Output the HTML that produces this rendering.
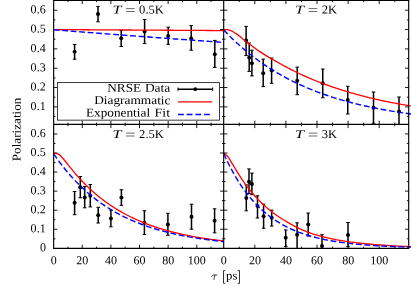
<!DOCTYPE html><html><head><meta charset="utf-8"><style>html,body{margin:0;padding:0;background:#fff}svg{display:block;will-change:transform;opacity:0.999}text{font-family:"Liberation Serif",serif;font-size:12px;fill:#000;text-rendering:geometricPrecision}</style></head><body>
<svg width="411" height="288" viewBox="0 0 411 288">
<rect width="411" height="288" fill="#fff"/>
<defs>
<clipPath id="c1"><rect x="53.65" y="0.35" width="170.04999999999998" height="124.05000000000001"/></clipPath>
<clipPath id="c2"><rect x="223.7" y="0.35" width="188.0" height="124.05000000000001"/></clipPath>
<clipPath id="c3"><rect x="53.65" y="124.4" width="170.04999999999998" height="124.0"/></clipPath>
<clipPath id="c4"><rect x="223.7" y="124.4" width="188.0" height="124.0"/></clipPath>
</defs>
<path d="M53.65,116.53h1.8 M223.7,116.53h-1.8 M223.7,116.53h1.8 M408.7,116.53h-1.8 M53.65,238.77h1.8 M223.7,238.77h-1.8 M223.7,238.77h1.8 M408.7,238.77h-1.8 M53.65,106.87h3.7 M223.7,106.87h-3.7 M223.7,106.87h3.7 M408.7,106.87h-3.7 M53.65,229.24h3.7 M223.7,229.24h-3.7 M223.7,229.24h3.7 M408.7,229.24h-3.7 M53.65,97.20h1.8 M223.7,97.20h-1.8 M223.7,97.20h1.8 M408.7,97.20h-1.8 M53.65,219.71h1.8 M223.7,219.71h-1.8 M223.7,219.71h1.8 M408.7,219.71h-1.8 M53.65,87.54h3.7 M223.7,87.54h-3.7 M223.7,87.54h3.7 M408.7,87.54h-3.7 M53.65,210.18h3.7 M223.7,210.18h-3.7 M223.7,210.18h3.7 M408.7,210.18h-3.7 M53.65,77.88h1.8 M223.7,77.88h-1.8 M223.7,77.88h1.8 M408.7,77.88h-1.8 M53.65,200.65h1.8 M223.7,200.65h-1.8 M223.7,200.65h1.8 M408.7,200.65h-1.8 M53.65,68.21h3.7 M223.7,68.21h-3.7 M223.7,68.21h3.7 M408.7,68.21h-3.7 M53.65,191.12h3.7 M223.7,191.12h-3.7 M223.7,191.12h3.7 M408.7,191.12h-3.7 M53.65,58.54h1.8 M223.7,58.54h-1.8 M223.7,58.54h1.8 M408.7,58.54h-1.8 M53.65,181.59h1.8 M223.7,181.59h-1.8 M223.7,181.59h1.8 M408.7,181.59h-1.8 M53.65,48.88h3.7 M223.7,48.88h-3.7 M223.7,48.88h3.7 M408.7,48.88h-3.7 M53.65,172.06h3.7 M223.7,172.06h-3.7 M223.7,172.06h3.7 M408.7,172.06h-3.7 M53.65,39.21h1.8 M223.7,39.21h-1.8 M223.7,39.21h1.8 M408.7,39.21h-1.8 M53.65,162.53h1.8 M223.7,162.53h-1.8 M223.7,162.53h1.8 M408.7,162.53h-1.8 M53.65,29.55h3.7 M223.7,29.55h-3.7 M223.7,29.55h3.7 M408.7,29.55h-3.7 M53.65,153.00h3.7 M223.7,153.00h-3.7 M223.7,153.00h3.7 M408.7,153.00h-3.7 M53.65,19.88h1.8 M223.7,19.88h-1.8 M223.7,19.88h1.8 M408.7,19.88h-1.8 M53.65,143.47h1.8 M223.7,143.47h-1.8 M223.7,143.47h1.8 M408.7,143.47h-1.8 M53.65,10.22h3.7 M223.7,10.22h-3.7 M223.7,10.22h3.7 M408.7,10.22h-3.7 M53.65,133.94h3.7 M223.7,133.94h-3.7 M223.7,133.94h3.7 M408.7,133.94h-3.7 M67.96,0.35v1.8 M67.96,124.4v-1.8 M67.96,124.4v1.8 M67.96,248.4v-1.8 M239.25,0.35v1.8 M239.25,124.4v-1.8 M239.25,124.4v1.8 M239.25,248.4v-1.8 M82.27,0.35v3.7 M82.27,124.4v-3.7 M82.27,124.4v3.7 M82.27,248.4v-3.7 M254.80,0.35v3.7 M254.80,124.4v-3.7 M254.80,124.4v3.7 M254.80,248.4v-3.7 M96.58,0.35v1.8 M96.58,124.4v-1.8 M96.58,124.4v1.8 M96.58,248.4v-1.8 M270.35,0.35v1.8 M270.35,124.4v-1.8 M270.35,124.4v1.8 M270.35,248.4v-1.8 M110.89,0.35v3.7 M110.89,124.4v-3.7 M110.89,124.4v3.7 M110.89,248.4v-3.7 M285.90,0.35v3.7 M285.90,124.4v-3.7 M285.90,124.4v3.7 M285.90,248.4v-3.7 M125.20,0.35v1.8 M125.20,124.4v-1.8 M125.20,124.4v1.8 M125.20,248.4v-1.8 M301.45,0.35v1.8 M301.45,124.4v-1.8 M301.45,124.4v1.8 M301.45,248.4v-1.8 M139.51,0.35v3.7 M139.51,124.4v-3.7 M139.51,124.4v3.7 M139.51,248.4v-3.7 M317.00,0.35v3.7 M317.00,124.4v-3.7 M317.00,124.4v3.7 M317.00,248.4v-3.7 M153.82,0.35v1.8 M153.82,124.4v-1.8 M153.82,124.4v1.8 M153.82,248.4v-1.8 M332.55,0.35v1.8 M332.55,124.4v-1.8 M332.55,124.4v1.8 M332.55,248.4v-1.8 M168.13,0.35v3.7 M168.13,124.4v-3.7 M168.13,124.4v3.7 M168.13,248.4v-3.7 M348.10,0.35v3.7 M348.10,124.4v-3.7 M348.10,124.4v3.7 M348.10,248.4v-3.7 M182.44,0.35v1.8 M182.44,124.4v-1.8 M182.44,124.4v1.8 M182.44,248.4v-1.8 M363.65,0.35v1.8 M363.65,124.4v-1.8 M363.65,124.4v1.8 M363.65,248.4v-1.8 M196.75,0.35v3.7 M196.75,124.4v-3.7 M196.75,124.4v3.7 M196.75,248.4v-3.7 M379.20,0.35v3.7 M379.20,124.4v-3.7 M379.20,124.4v3.7 M379.20,248.4v-3.7 M211.06,0.35v1.8 M211.06,124.4v-1.8 M211.06,124.4v1.8 M211.06,248.4v-1.8 M394.75,0.35v1.8 M394.75,124.4v-1.8 M394.75,124.4v1.8 M394.75,248.4v-1.8" stroke="#000" stroke-width="0.9" fill="none"/>
<g clip-path="url(#c1)" stroke="#000" stroke-width="1.5" fill="#000">
<path d="M74.60,44.40V59.20" fill="none"/>
<path d="M72.80,44.40h3.6M72.80,59.20h3.6" fill="none" stroke-width="1"/>
<circle cx="74.60" cy="51.80" r="2.0" stroke="none"/>
<path d="M98.00,6.40V21.80" fill="none"/>
<path d="M96.20,6.40h3.6M96.20,21.80h3.6" fill="none" stroke-width="1"/>
<circle cx="98.00" cy="14.00" r="2.0" stroke="none"/>
<path d="M121.20,30.60V46.50" fill="none"/>
<path d="M119.40,30.60h3.6M119.40,46.50h3.6" fill="none" stroke-width="1"/>
<circle cx="121.20" cy="38.20" r="2.0" stroke="none"/>
<path d="M144.60,19.50V43.60" fill="none"/>
<path d="M142.80,19.50h3.6M142.80,43.60h3.6" fill="none" stroke-width="1"/>
<circle cx="144.60" cy="31.60" r="2.0" stroke="none"/>
<path d="M168.20,27.20V44.30" fill="none"/>
<path d="M166.40,27.20h3.6M166.40,44.30h3.6" fill="none" stroke-width="1"/>
<circle cx="168.20" cy="35.90" r="2.0" stroke="none"/>
<path d="M191.20,25.60V50.20" fill="none"/>
<path d="M189.40,25.60h3.6M189.40,50.20h3.6" fill="none" stroke-width="1"/>
<circle cx="191.20" cy="38.40" r="2.0" stroke="none"/>
<path d="M214.80,40.40V67.40" fill="none"/>
<path d="M213.00,40.40h3.6M213.00,67.40h3.6" fill="none" stroke-width="1"/>
<circle cx="214.80" cy="54.20" r="2.0" stroke="none"/>
</g>
<g clip-path="url(#c2)" stroke="#000" stroke-width="1.5" fill="#000">
<path d="M246.10,26.40V55.60" fill="none"/>
<path d="M244.30,26.40h3.6M244.30,55.60h3.6" fill="none" stroke-width="1"/>
<circle cx="246.10" cy="40.60" r="2.0" stroke="none"/>
<path d="M249.20,43.00V71.40" fill="none"/>
<path d="M247.40,43.00h3.6M247.40,71.40h3.6" fill="none" stroke-width="1"/>
<circle cx="249.20" cy="57.80" r="2.0" stroke="none"/>
<path d="M251.90,50.20V75.90" fill="none"/>
<path d="M250.10,50.20h3.6M250.10,75.90h3.6" fill="none" stroke-width="1"/>
<circle cx="251.90" cy="63.20" r="2.0" stroke="none"/>
<path d="M263.20,59.10V86.60" fill="none"/>
<path d="M261.40,59.10h3.6M261.40,86.60h3.6" fill="none" stroke-width="1"/>
<circle cx="263.20" cy="73.30" r="2.0" stroke="none"/>
<path d="M271.60,58.00V83.30" fill="none"/>
<path d="M269.80,58.00h3.6M269.80,83.30h3.6" fill="none" stroke-width="1"/>
<circle cx="271.60" cy="70.60" r="2.0" stroke="none"/>
<path d="M297.20,67.10V94.70" fill="none"/>
<path d="M295.40,67.10h3.6M295.40,94.70h3.6" fill="none" stroke-width="1"/>
<circle cx="297.20" cy="80.70" r="2.0" stroke="none"/>
<path d="M322.75,69.00V97.75" fill="none"/>
<path d="M320.95,69.00h3.6M320.95,97.75h3.6" fill="none" stroke-width="1"/>
<circle cx="322.75" cy="83.25" r="2.0" stroke="none"/>
<path d="M347.75,86.25V114.00" fill="none"/>
<path d="M345.95,86.25h3.6M345.95,114.00h3.6" fill="none" stroke-width="1"/>
<circle cx="347.75" cy="100.00" r="2.0" stroke="none"/>
<path d="M373.50,92.00V123.25" fill="none"/>
<path d="M371.70,92.00h3.6M371.70,123.25h3.6" fill="none" stroke-width="1"/>
<circle cx="373.50" cy="107.75" r="2.0" stroke="none"/>
<path d="M399.00,97.00V130.00" fill="none"/>
<path d="M397.20,97.00h3.6M397.20,130.00h3.6" fill="none" stroke-width="1"/>
<circle cx="399.00" cy="111.50" r="2.0" stroke="none"/>
</g>
<g clip-path="url(#c3)" stroke="#000" stroke-width="1.5" fill="#000">
<path d="M74.60,191.50V214.70" fill="none"/>
<path d="M72.80,191.50h3.6M72.80,214.70h3.6" fill="none" stroke-width="1"/>
<circle cx="74.60" cy="202.70" r="2.0" stroke="none"/>
<path d="M80.30,176.50V197.80" fill="none"/>
<path d="M78.50,176.50h3.6M78.50,197.80h3.6" fill="none" stroke-width="1"/>
<circle cx="80.30" cy="187.30" r="2.0" stroke="none"/>
<path d="M84.70,186.60V207.80" fill="none"/>
<path d="M82.90,186.60h3.6M82.90,207.80h3.6" fill="none" stroke-width="1"/>
<circle cx="84.70" cy="197.40" r="2.0" stroke="none"/>
<path d="M90.30,184.50V206.90" fill="none"/>
<path d="M88.50,184.50h3.6M88.50,206.90h3.6" fill="none" stroke-width="1"/>
<circle cx="90.30" cy="195.70" r="2.0" stroke="none"/>
<path d="M98.20,207.30V223.00" fill="none"/>
<path d="M96.40,207.30h3.6M96.40,223.00h3.6" fill="none" stroke-width="1"/>
<circle cx="98.20" cy="215.30" r="2.0" stroke="none"/>
<path d="M110.90,210.10V226.80" fill="none"/>
<path d="M109.10,210.10h3.6M109.10,226.80h3.6" fill="none" stroke-width="1"/>
<circle cx="110.90" cy="218.50" r="2.0" stroke="none"/>
<path d="M121.40,189.70V205.30" fill="none"/>
<path d="M119.60,189.70h3.6M119.60,205.30h3.6" fill="none" stroke-width="1"/>
<circle cx="121.40" cy="197.50" r="2.0" stroke="none"/>
<path d="M144.40,210.70V234.50" fill="none"/>
<path d="M142.60,210.70h3.6M142.60,234.50h3.6" fill="none" stroke-width="1"/>
<circle cx="144.40" cy="222.70" r="2.0" stroke="none"/>
<path d="M167.90,213.30V235.30" fill="none"/>
<path d="M166.10,213.30h3.6M166.10,235.30h3.6" fill="none" stroke-width="1"/>
<circle cx="167.90" cy="224.40" r="2.0" stroke="none"/>
<path d="M191.50,204.20V229.20" fill="none"/>
<path d="M189.70,204.20h3.6M189.70,229.20h3.6" fill="none" stroke-width="1"/>
<circle cx="191.50" cy="216.70" r="2.0" stroke="none"/>
<path d="M214.60,208.80V232.80" fill="none"/>
<path d="M212.80,208.80h3.6M212.80,232.80h3.6" fill="none" stroke-width="1"/>
<circle cx="214.60" cy="220.70" r="2.0" stroke="none"/>
</g>
<g clip-path="url(#c4)" stroke="#000" stroke-width="1.5" fill="#000">
<path d="M246.30,184.90V210.80" fill="none"/>
<path d="M244.50,184.90h3.6M244.50,210.80h3.6" fill="none" stroke-width="1"/>
<circle cx="246.30" cy="198.10" r="2.0" stroke="none"/>
<path d="M249.00,168.90V193.60" fill="none"/>
<path d="M247.20,168.90h3.6M247.20,193.60h3.6" fill="none" stroke-width="1"/>
<circle cx="249.00" cy="181.70" r="2.0" stroke="none"/>
<path d="M251.90,173.10V194.70" fill="none"/>
<path d="M250.10,173.10h3.6M250.10,194.70h3.6" fill="none" stroke-width="1"/>
<circle cx="251.90" cy="184.10" r="2.0" stroke="none"/>
<path d="M257.50,195.80V218.00" fill="none"/>
<path d="M255.70,195.80h3.6M255.70,218.00h3.6" fill="none" stroke-width="1"/>
<circle cx="257.50" cy="206.00" r="2.0" stroke="none"/>
<path d="M263.60,204.20V228.30" fill="none"/>
<path d="M261.80,204.20h3.6M261.80,228.30h3.6" fill="none" stroke-width="1"/>
<circle cx="263.60" cy="216.30" r="2.0" stroke="none"/>
<path d="M271.70,210.10V226.10" fill="none"/>
<path d="M269.90,210.10h3.6M269.90,226.10h3.6" fill="none" stroke-width="1"/>
<circle cx="271.70" cy="217.80" r="2.0" stroke="none"/>
<path d="M285.70,229.90V246.50" fill="none"/>
<path d="M283.90,229.90h3.6M283.90,246.50h3.6" fill="none" stroke-width="1"/>
<circle cx="285.70" cy="237.70" r="2.0" stroke="none"/>
<path d="M297.10,222.80V250.00" fill="none"/>
<path d="M295.30,222.80h3.6M295.30,250.00h3.6" fill="none" stroke-width="1"/>
<circle cx="297.10" cy="234.70" r="2.0" stroke="none"/>
<path d="M308.20,213.00V236.00" fill="none"/>
<path d="M306.40,213.00h3.6M306.40,236.00h3.6" fill="none" stroke-width="1"/>
<circle cx="308.20" cy="224.60" r="2.0" stroke="none"/>
<path d="M322.00,234.70V256.00" fill="none"/>
<path d="M320.20,234.70h3.6M320.20,256.00h3.6" fill="none" stroke-width="1"/>
<circle cx="322.00" cy="246.10" r="2.0" stroke="none"/>
<path d="M348.00,222.50V246.70" fill="none"/>
<path d="M346.20,222.50h3.6M346.20,246.70h3.6" fill="none" stroke-width="1"/>
<circle cx="348.00" cy="235.00" r="2.0" stroke="none"/>
</g>
<g clip-path="url(#c1)">
<path d="M53.65,29.55 L55.08,29.56 L56.51,29.57 L57.94,29.58 L59.36,29.58 L60.79,29.59 L62.22,29.60 L63.65,29.61 L65.08,29.62 L66.51,29.63 L67.94,29.64 L69.36,29.65 L70.79,29.65 L72.22,29.66 L73.65,29.67 L75.08,29.68 L76.51,29.69 L77.94,29.70 L79.36,29.71 L80.79,29.72 L82.22,29.72 L83.65,29.73 L85.08,29.74 L86.51,29.75 L87.94,29.76 L89.36,29.77 L90.79,29.78 L92.22,29.79 L93.65,29.79 L95.08,29.80 L96.51,29.81 L97.94,29.82 L99.36,29.83 L100.79,29.84 L102.22,29.85 L103.65,29.86 L105.08,29.86 L106.51,29.87 L107.94,29.88 L109.36,29.89 L110.79,29.90 L112.22,29.91 L113.65,29.92 L115.08,29.92 L116.51,29.93 L117.94,29.94 L119.36,29.95 L120.79,29.96 L122.22,29.97 L123.65,29.98 L125.08,29.99 L126.51,29.99 L127.94,30.00 L129.36,30.01 L130.79,30.02 L132.22,30.03 L133.65,30.04 L135.08,30.05 L136.51,30.06 L137.94,30.06 L139.36,30.07 L140.79,30.08 L142.22,30.09 L143.65,30.10 L145.08,30.11 L146.51,30.12 L147.94,30.13 L149.36,30.13 L150.79,30.14 L152.22,30.15 L153.65,30.16 L155.08,30.17 L156.51,30.18 L157.94,30.19 L159.36,30.20 L160.79,30.20 L162.22,30.21 L163.65,30.22 L165.08,30.23 L166.51,30.24 L167.94,30.25 L169.36,30.26 L170.79,30.27 L172.22,30.27 L173.65,30.28 L175.08,30.29 L176.51,30.30 L177.93,30.31 L179.36,30.32 L180.79,30.33 L182.22,30.33 L183.65,30.34 L185.08,30.35 L186.51,30.36 L187.93,30.37 L189.36,30.38 L190.79,30.39 L192.22,30.40 L193.65,30.40 L195.08,30.41 L196.51,30.42 L197.93,30.43 L199.36,30.44 L200.79,30.45 L202.22,30.46 L203.65,30.47 L205.08,30.47 L206.51,30.48 L207.93,30.49 L209.36,30.50 L210.79,30.51 L212.22,30.52 L213.65,30.53 L215.08,30.54 L216.51,30.54 L217.93,30.55 L219.36,30.56 L220.79,30.57 L222.22,30.58 L223.65,30.59 L225.08,30.60" fill="none" stroke="#ff0000" stroke-width="1.3"/>
<path d="M53.65,29.74 L55.08,29.86 L56.51,29.97 L57.94,30.08 L59.36,30.20 L60.79,30.31 L62.22,30.42 L63.65,30.54 L65.08,30.65 L66.51,30.76 L67.94,30.87 L69.36,30.99 L70.79,31.10 L72.22,31.21 L73.65,31.32 L75.08,31.43 L76.51,31.55 L77.94,31.66 L79.36,31.77 L80.79,31.88 L82.22,31.99 L83.65,32.10 L85.08,32.21 L86.51,32.32 L87.94,32.44 L89.36,32.55 L90.79,32.66 L92.22,32.77 L93.65,32.88 L95.08,32.99 L96.51,33.10 L97.94,33.21 L99.36,33.32 L100.79,33.43 L102.22,33.53 L103.65,33.64 L105.08,33.75 L106.51,33.86 L107.94,33.97 L109.36,34.08 L110.79,34.19 L112.22,34.30 L113.65,34.40 L115.08,34.51 L116.51,34.62 L117.94,34.73 L119.36,34.84 L120.79,34.94 L122.22,35.05 L123.65,35.16 L125.08,35.27 L126.51,35.37 L127.94,35.48 L129.36,35.59 L130.79,35.69 L132.22,35.80 L133.65,35.91 L135.08,36.01 L136.51,36.12 L137.94,36.23 L139.36,36.33 L140.79,36.44 L142.22,36.54 L143.65,36.65 L145.08,36.76 L146.51,36.86 L147.94,36.97 L149.36,37.07 L150.79,37.18 L152.22,37.28 L153.65,37.39 L155.08,37.49 L156.51,37.60 L157.94,37.70 L159.36,37.80 L160.79,37.91 L162.22,38.01 L163.65,38.12 L165.08,38.22 L166.51,38.32 L167.94,38.43 L169.36,38.53 L170.79,38.63 L172.22,38.74 L173.65,38.84 L175.08,38.94 L176.51,39.05 L177.93,39.15 L179.36,39.25 L180.79,39.35 L182.22,39.46 L183.65,39.56 L185.08,39.66 L186.51,39.76 L187.93,39.87 L189.36,39.97 L190.79,40.07 L192.22,40.17 L193.65,40.27 L195.08,40.37 L196.51,40.47 L197.93,40.58 L199.36,40.68 L200.79,40.78 L202.22,40.88 L203.65,40.98 L205.08,41.08 L206.51,41.18 L207.93,41.28 L209.36,41.38 L210.79,41.48 L212.22,41.58 L213.65,41.68 L215.08,41.78 L216.51,41.88 L217.93,41.98 L219.36,42.08 L220.79,42.18 L222.22,42.27 L223.65,42.37 L225.08,42.47" fill="none" stroke="#0000ff" stroke-width="1.4" stroke-dasharray="5.8,2.72"/>
</g>
<g clip-path="url(#c2)">
<path d="M223.70,29.55 L225.27,29.59 L226.84,29.71 L228.41,29.96 L229.98,30.39 L231.55,30.96 L233.13,31.72 L234.70,32.68 L236.27,33.72 L237.84,34.88 L239.41,36.10 L240.98,37.36 L242.55,38.66 L244.12,39.92 L245.69,41.16 L247.26,42.39 L248.84,43.62 L250.41,44.82 L251.98,46.01 L253.55,47.18 L255.12,48.33 L256.69,49.45 L258.26,50.54 L259.83,51.60 L261.40,52.65 L262.97,53.67 L264.55,54.67 L266.12,55.66 L267.69,56.62 L269.26,57.56 L270.83,58.48 L272.40,59.38 L273.97,60.28 L275.54,61.16 L277.11,62.04 L278.68,62.91 L280.26,63.78 L281.83,64.65 L283.40,65.50 L284.97,66.35 L286.54,67.19 L288.11,68.02 L289.68,68.84 L291.25,69.65 L292.82,70.45 L294.39,71.23 L295.97,72.00 L297.54,72.76 L299.11,73.51 L300.68,74.24 L302.25,74.96 L303.82,75.68 L305.39,76.38 L306.96,77.07 L308.53,77.75 L310.10,78.42 L311.68,79.08 L313.25,79.73 L314.82,80.37 L316.39,81.00 L317.96,81.62 L319.53,82.24 L321.10,82.84 L322.67,83.43 L324.24,84.02 L325.81,84.59 L327.38,85.16 L328.96,85.72 L330.53,86.27 L332.10,86.81 L333.67,87.35 L335.24,87.87 L336.81,88.39 L338.38,88.90 L339.95,89.41 L341.52,89.91 L343.09,90.40 L344.67,90.88 L346.24,91.36 L347.81,91.83 L349.38,92.30 L350.95,92.76 L352.52,93.22 L354.09,93.67 L355.66,94.11 L357.23,94.55 L358.80,94.98 L360.38,95.41 L361.95,95.83 L363.52,96.24 L365.09,96.64 L366.66,97.04 L368.23,97.43 L369.80,97.82 L371.37,98.20 L372.94,98.57 L374.51,98.93 L376.09,99.29 L377.66,99.64 L379.23,99.99 L380.80,100.33 L382.37,100.66 L383.94,100.99 L385.51,101.32 L387.08,101.64 L388.65,101.96 L390.22,102.27 L391.80,102.57 L393.37,102.87 L394.94,103.17 L396.51,103.46 L398.08,103.74 L399.65,104.03 L401.22,104.30 L402.79,104.58 L404.36,104.85 L405.93,105.11 L407.51,105.37 L409.08,105.63 L410.65,105.89 L412.22,106.14" fill="none" stroke="#ff0000" stroke-width="1.3"/>
<path d="M223.70,29.94 L225.27,31.59 L226.84,33.22 L228.41,34.81 L229.98,36.38 L231.55,37.92 L233.13,39.44 L234.70,40.93 L236.27,42.40 L237.84,43.84 L239.41,45.25 L240.98,46.64 L242.55,48.01 L244.12,49.35 L245.69,50.67 L247.26,51.97 L248.84,53.24 L250.41,54.50 L251.98,55.73 L253.55,56.94 L255.12,58.13 L256.69,59.30 L258.26,60.45 L259.83,61.57 L261.40,62.68 L262.97,63.78 L264.55,64.85 L266.12,65.90 L267.69,66.94 L269.26,67.96 L270.83,68.96 L272.40,69.94 L273.97,70.91 L275.54,71.85 L277.11,72.79 L278.68,73.71 L280.26,74.61 L281.83,75.49 L283.40,76.36 L284.97,77.22 L286.54,78.06 L288.11,78.89 L289.68,79.70 L291.25,80.50 L292.82,81.28 L294.39,82.06 L295.97,82.81 L297.54,83.56 L299.11,84.29 L300.68,85.01 L302.25,85.72 L303.82,86.41 L305.39,87.10 L306.96,87.77 L308.53,88.43 L310.10,89.08 L311.68,89.72 L313.25,90.34 L314.82,90.96 L316.39,91.56 L317.96,92.16 L319.53,92.74 L321.10,93.32 L322.67,93.88 L324.24,94.44 L325.81,94.98 L327.38,95.52 L328.96,96.05 L330.53,96.56 L332.10,97.07 L333.67,97.57 L335.24,98.07 L336.81,98.55 L338.38,99.02 L339.95,99.49 L341.52,99.95 L343.09,100.40 L344.67,100.84 L346.24,101.28 L347.81,101.71 L349.38,102.13 L350.95,102.54 L352.52,102.95 L354.09,103.35 L355.66,103.74 L357.23,104.13 L358.80,104.50 L360.38,104.88 L361.95,105.24 L363.52,105.60 L365.09,105.96 L366.66,106.30 L368.23,106.65 L369.80,106.98 L371.37,107.31 L372.94,107.64 L374.51,107.96 L376.09,108.27 L377.66,108.58 L379.23,108.88 L380.80,109.18 L382.37,109.47 L383.94,109.76 L385.51,110.04 L387.08,110.32 L388.65,110.59 L390.22,110.86 L391.80,111.12 L393.37,111.38 L394.94,111.63 L396.51,111.89 L398.08,112.13 L399.65,112.37 L401.22,112.61 L402.79,112.84 L404.36,113.07 L405.93,113.30 L407.51,113.52 L409.08,113.74 L410.65,113.95 L412.22,114.16" fill="none" stroke="#0000ff" stroke-width="1.4" stroke-dasharray="5.8,2.72"/>
</g>
<g clip-path="url(#c3)">
<path d="M53.65,153.00 L55.08,153.04 L56.51,153.28 L57.94,153.87 L59.36,154.82 L60.79,156.08 L62.22,157.59 L63.65,159.24 L65.08,160.99 L66.51,162.78 L67.94,164.58 L69.36,166.38 L70.79,168.16 L72.22,169.91 L73.65,171.63 L75.08,173.32 L76.51,174.98 L77.94,176.60 L79.36,178.18 L80.79,179.73 L82.22,181.25 L83.65,182.73 L85.08,184.18 L86.51,185.60 L87.94,186.99 L89.36,188.35 L90.79,189.67 L92.22,190.97 L93.65,192.24 L95.08,193.48 L96.51,194.69 L97.94,195.88 L99.36,197.04 L100.79,198.17 L102.22,199.28 L103.65,200.37 L105.08,201.43 L106.51,202.46 L107.94,203.48 L109.36,204.47 L110.79,205.44 L112.22,206.39 L113.65,207.32 L115.08,208.22 L116.51,209.11 L117.94,209.98 L119.36,210.83 L120.79,211.65 L122.22,212.47 L123.65,213.26 L125.08,214.03 L126.51,214.79 L127.94,215.53 L129.36,216.26 L130.79,216.97 L132.22,217.66 L133.65,218.34 L135.08,219.00 L136.51,219.65 L137.94,220.28 L139.36,220.90 L140.79,221.51 L142.22,222.10 L143.65,222.68 L145.08,223.25 L146.51,223.80 L147.94,224.35 L149.36,224.88 L150.79,225.39 L152.22,225.90 L153.65,226.40 L155.08,226.88 L156.51,227.36 L157.94,227.82 L159.36,228.27 L160.79,228.72 L162.22,229.15 L163.65,229.57 L165.08,229.99 L166.51,230.39 L167.94,230.79 L169.36,231.18 L170.79,231.56 L172.22,231.93 L173.65,232.29 L175.08,232.64 L176.51,232.99 L177.93,233.33 L179.36,233.66 L180.79,233.98 L182.22,234.30 L183.65,234.61 L185.08,234.91 L186.51,235.21 L187.93,235.50 L189.36,235.78 L190.79,236.06 L192.22,236.33 L193.65,236.59 L195.08,236.85 L196.51,237.11 L197.93,237.35 L199.36,237.60 L200.79,237.83 L202.22,238.07 L203.65,238.29 L205.08,238.51 L206.51,238.73 L207.93,238.94 L209.36,239.15 L210.79,239.35 L212.22,239.55 L213.65,239.74 L215.08,239.93 L216.51,240.12 L217.93,240.30 L219.36,240.48 L220.79,240.65 L222.22,240.82 L223.65,240.98 L225.08,241.15" fill="none" stroke="#ff0000" stroke-width="1.3"/>
<path d="M53.65,153.76 L55.08,155.85 L56.51,157.88 L57.94,159.87 L59.36,161.82 L60.79,163.73 L62.22,165.59 L63.65,167.41 L65.08,169.20 L66.51,170.94 L67.94,172.64 L69.36,174.31 L70.79,175.94 L72.22,177.53 L73.65,179.09 L75.08,180.62 L76.51,182.11 L77.94,183.57 L79.36,184.99 L80.79,186.39 L82.22,187.75 L83.65,189.09 L85.08,190.39 L86.51,191.67 L87.94,192.91 L89.36,194.13 L90.79,195.33 L92.22,196.49 L93.65,197.64 L95.08,198.75 L96.51,199.84 L97.94,200.91 L99.36,201.96 L100.79,202.98 L102.22,203.97 L103.65,204.95 L105.08,205.91 L106.51,206.84 L107.94,207.75 L109.36,208.65 L110.79,209.52 L112.22,210.38 L113.65,211.21 L115.08,212.03 L116.51,212.83 L117.94,213.61 L119.36,214.37 L120.79,215.12 L122.22,215.85 L123.65,216.57 L125.08,217.27 L126.51,217.95 L127.94,218.62 L129.36,219.27 L130.79,219.91 L132.22,220.54 L133.65,221.15 L135.08,221.75 L136.51,222.33 L137.94,222.90 L139.36,223.46 L140.79,224.01 L142.22,224.55 L143.65,225.07 L145.08,225.58 L146.51,226.08 L147.94,226.57 L149.36,227.05 L150.79,227.52 L152.22,227.98 L153.65,228.42 L155.08,228.86 L156.51,229.29 L157.94,229.71 L159.36,230.12 L160.79,230.52 L162.22,230.91 L163.65,231.29 L165.08,231.67 L166.51,232.03 L167.94,232.39 L169.36,232.74 L170.79,233.09 L172.22,233.42 L173.65,233.75 L175.08,234.07 L176.51,234.38 L177.93,234.69 L179.36,234.99 L180.79,235.28 L182.22,235.57 L183.65,235.85 L185.08,236.12 L186.51,236.39 L187.93,236.65 L189.36,236.91 L190.79,237.16 L192.22,237.41 L193.65,237.65 L195.08,237.88 L196.51,238.11 L197.93,238.34 L199.36,238.56 L200.79,238.77 L202.22,238.98 L203.65,239.19 L205.08,239.39 L206.51,239.58 L207.93,239.78 L209.36,239.96 L210.79,240.15 L212.22,240.33 L213.65,240.50 L215.08,240.67 L216.51,240.84 L217.93,241.01 L219.36,241.17 L220.79,241.32 L222.22,241.48 L223.65,241.63 L225.08,241.77" fill="none" stroke="#0000ff" stroke-width="1.4" stroke-dasharray="5.8,2.72"/>
</g>
<g clip-path="url(#c4)">
<path d="M223.70,153.00 L225.27,154.16 L226.84,155.49 L228.41,157.46 L229.98,159.95 L231.55,162.54 L233.13,165.09 L234.70,167.73 L236.27,170.38 L237.84,172.96 L239.41,175.42 L240.98,177.83 L242.55,180.17 L244.12,182.44 L245.69,184.62 L247.26,186.73 L248.84,188.75 L250.41,190.71 L251.98,192.61 L253.55,194.44 L255.12,196.21 L256.69,197.92 L258.26,199.58 L259.83,201.19 L261.40,202.74 L262.97,204.25 L264.55,205.70 L266.12,207.11 L267.69,208.47 L269.26,209.78 L270.83,211.05 L272.40,212.27 L273.97,213.44 L275.54,214.57 L277.11,215.66 L278.68,216.72 L280.26,217.75 L281.83,218.76 L283.40,219.75 L284.97,220.71 L286.54,221.66 L288.11,222.59 L289.68,223.50 L291.25,224.39 L292.82,225.25 L294.39,226.09 L295.97,226.91 L297.54,227.70 L299.11,228.45 L300.68,229.19 L302.25,229.89 L303.82,230.56 L305.39,231.20 L306.96,231.82 L308.53,232.41 L310.10,232.97 L311.68,233.50 L313.25,234.02 L314.82,234.51 L316.39,234.99 L317.96,235.44 L319.53,235.88 L321.10,236.31 L322.67,236.72 L324.24,237.11 L325.81,237.49 L327.38,237.85 L328.96,238.20 L330.53,238.54 L332.10,238.87 L333.67,239.18 L335.24,239.49 L336.81,239.78 L338.38,240.06 L339.95,240.34 L341.52,240.60 L343.09,240.86 L344.67,241.11 L346.24,241.35 L347.81,241.58 L349.38,241.81 L350.95,242.02 L352.52,242.23 L354.09,242.43 L355.66,242.63 L357.23,242.82 L358.80,243.00 L360.38,243.18 L361.95,243.35 L363.52,243.52 L365.09,243.68 L366.66,243.83 L368.23,243.98 L369.80,244.13 L371.37,244.27 L372.94,244.40 L374.51,244.53 L376.09,244.66 L377.66,244.78 L379.23,244.90 L380.80,245.02 L382.37,245.13 L383.94,245.24 L385.51,245.34 L387.08,245.45 L388.65,245.54 L390.22,245.64 L391.80,245.73 L393.37,245.82 L394.94,245.91 L396.51,245.99 L398.08,246.07 L399.65,246.15 L401.22,246.22 L402.79,246.29 L404.36,246.36 L405.93,246.43 L407.51,246.50 L409.08,246.56 L410.65,246.62 L412.22,246.68" fill="none" stroke="#ff0000" stroke-width="1.3"/>
<path d="M223.70,153.57 L225.27,157.02 L226.84,160.34 L228.41,163.54 L229.98,166.63 L231.55,169.60 L233.13,172.46 L234.70,175.22 L236.27,177.88 L237.84,180.45 L239.41,182.91 L240.98,185.29 L242.55,187.59 L244.12,189.80 L245.69,191.93 L247.26,193.98 L248.84,195.95 L250.41,197.86 L251.98,199.69 L253.55,201.46 L255.12,203.17 L256.69,204.81 L258.26,206.39 L259.83,207.92 L261.40,209.39 L262.97,210.80 L264.55,212.17 L266.12,213.48 L267.69,214.75 L269.26,215.97 L270.83,217.15 L272.40,218.28 L273.97,219.37 L275.54,220.43 L277.11,221.44 L278.68,222.42 L280.26,223.36 L281.83,224.27 L283.40,225.14 L284.97,225.99 L286.54,226.80 L288.11,227.58 L289.68,228.33 L291.25,229.06 L292.82,229.76 L294.39,230.44 L295.97,231.09 L297.54,231.71 L299.11,232.32 L300.68,232.90 L302.25,233.46 L303.82,234.00 L305.39,234.52 L306.96,235.02 L308.53,235.50 L310.10,235.97 L311.68,236.42 L313.25,236.85 L314.82,237.27 L316.39,237.67 L317.96,238.06 L319.53,238.43 L321.10,238.79 L322.67,239.13 L324.24,239.47 L325.81,239.79 L327.38,240.10 L328.96,240.40 L330.53,240.68 L332.10,240.96 L333.67,241.23 L335.24,241.49 L336.81,241.73 L338.38,241.97 L339.95,242.20 L341.52,242.43 L343.09,242.64 L344.67,242.84 L346.24,243.04 L347.81,243.23 L349.38,243.42 L350.95,243.60 L352.52,243.77 L354.09,243.93 L355.66,244.09 L357.23,244.24 L358.80,244.39 L360.38,244.53 L361.95,244.67 L363.52,244.80 L365.09,244.93 L366.66,245.05 L368.23,245.17 L369.80,245.29 L371.37,245.40 L372.94,245.50 L374.51,245.60 L376.09,245.70 L377.66,245.80 L379.23,245.89 L380.80,245.97 L382.37,246.06 L383.94,246.14 L385.51,246.22 L387.08,246.30 L388.65,246.37 L390.22,246.44 L391.80,246.51 L393.37,246.57 L394.94,246.63 L396.51,246.69 L398.08,246.75 L399.65,246.81 L401.22,246.86 L402.79,246.92 L404.36,246.97 L405.93,247.01 L407.51,247.06 L409.08,247.11 L410.65,247.15 L412.22,247.19" fill="none" stroke="#0000ff" stroke-width="1.4" stroke-dasharray="5.8,2.72"/>
</g>
<path d="M53.65,0.35H408.7 M53.65,124.4H408.7 M53.65,248.4H408.7 M53.65,0.35V248.4 M223.7,0.35V248.4 M408.7,0.35V248.4" stroke="#000" stroke-width="1.15" fill="none" stroke-linecap="square"/>
<rect x="57.5" y="82.6" width="162.0" height="37.55000000000001" fill="#fff" stroke="#1a1a1a" stroke-width="0.85"/>
<text x="107.2" y="91.7" textLength="34.0" lengthAdjust="spacingAndGlyphs" font-size="12.4" transform="rotate(0.03 107.2 91.7)" >NRSE</text>
<text x="144.9" y="91.7" textLength="25.4" lengthAdjust="spacingAndGlyphs" font-size="12.4" transform="rotate(0.03 144.9 91.7)" >Data</text>
<text x="94.2" y="104.1" textLength="76.3" lengthAdjust="spacingAndGlyphs" font-size="12.4" transform="rotate(0.03 94.2 104.1)" >Diagrammatic</text>
<text x="85.9" y="116.5" textLength="64.2" lengthAdjust="spacingAndGlyphs" font-size="12.4" transform="rotate(0.03 85.9 116.5)" >Exponential</text>
<text x="154.5" y="116.5" textLength="15.5" lengthAdjust="spacingAndGlyphs" font-size="12.4" transform="rotate(0.03 154.5 116.5)" >Fit</text>
<path d="M178,89.2H212.7" stroke="#000" stroke-width="1.45" fill="none"/><path d="M178,87.5v3.4M212.7,87.5v3.4" stroke="#000" stroke-width="1" fill="none"/><circle cx="195.3" cy="89.2" r="1.9"/>
<path d="M178,101.9H212.2" stroke="#ff0000" stroke-width="1.3"/>
<path d="M178,114.45H209.8" stroke="#0000ff" stroke-width="1.4" stroke-dasharray="5.8,2.9"/>
<text x="30.60" y="13.27" textLength="15.1" lengthAdjust="spacing" font-size="12.8" transform="rotate(0.03 30.60 13.27)">0.6</text>
<text x="30.60" y="136.99" textLength="15.1" lengthAdjust="spacing" font-size="12.8" transform="rotate(0.03 30.60 136.99)">0.6</text>
<text x="30.60" y="32.60" textLength="15.1" lengthAdjust="spacing" font-size="12.8" transform="rotate(0.03 30.60 32.60)">0.5</text>
<text x="30.60" y="156.05" textLength="15.1" lengthAdjust="spacing" font-size="12.8" transform="rotate(0.03 30.60 156.05)">0.5</text>
<text x="30.60" y="51.93" textLength="15.1" lengthAdjust="spacing" font-size="12.8" transform="rotate(0.03 30.60 51.93)">0.4</text>
<text x="30.60" y="175.11" textLength="15.1" lengthAdjust="spacing" font-size="12.8" transform="rotate(0.03 30.60 175.11)">0.4</text>
<text x="30.60" y="71.26" textLength="15.1" lengthAdjust="spacing" font-size="12.8" transform="rotate(0.03 30.60 71.26)">0.3</text>
<text x="30.60" y="194.17" textLength="15.1" lengthAdjust="spacing" font-size="12.8" transform="rotate(0.03 30.60 194.17)">0.3</text>
<text x="30.60" y="90.59" textLength="15.1" lengthAdjust="spacing" font-size="12.8" transform="rotate(0.03 30.60 90.59)">0.2</text>
<text x="30.60" y="213.23" textLength="15.1" lengthAdjust="spacing" font-size="12.8" transform="rotate(0.03 30.60 213.23)">0.2</text>
<text x="30.60" y="109.92" textLength="15.1" lengthAdjust="spacing" font-size="12.8" transform="rotate(0.03 30.60 109.92)">0.1</text>
<text x="30.60" y="232.29" textLength="15.1" lengthAdjust="spacing" font-size="12.8" transform="rotate(0.03 30.60 232.29)">0.1</text>
<text x="40.10" y="251.35" text-anchor="start" font-size="12.8" transform="rotate(0.03 40.10 251.35)">0</text>
<text x="53.75" y="264.35" text-anchor="middle" font-size="12.8" transform="rotate(0.03 53.75 264.35)">0</text>
<text x="82.37" y="264.35" text-anchor="middle" font-size="12.8" transform="rotate(0.03 82.37 264.35)">20</text>
<text x="110.99" y="264.35" text-anchor="middle" font-size="12.8" transform="rotate(0.03 110.99 264.35)">40</text>
<text x="139.61" y="264.35" text-anchor="middle" font-size="12.8" transform="rotate(0.03 139.61 264.35)">60</text>
<text x="168.23" y="264.35" text-anchor="middle" font-size="12.8" transform="rotate(0.03 168.23 264.35)">80</text>
<text x="196.85" y="264.35" text-anchor="middle" font-size="12.8" transform="rotate(0.03 196.85 264.35)">100</text>
<text x="223.80" y="264.35" text-anchor="middle" font-size="12.8" transform="rotate(0.03 223.80 264.35)">0</text>
<text x="254.90" y="264.35" text-anchor="middle" font-size="12.8" transform="rotate(0.03 254.90 264.35)">20</text>
<text x="286.00" y="264.35" text-anchor="middle" font-size="12.8" transform="rotate(0.03 286.00 264.35)">40</text>
<text x="317.10" y="264.35" text-anchor="middle" font-size="12.8" transform="rotate(0.03 317.10 264.35)">60</text>
<text x="348.20" y="264.35" text-anchor="middle" font-size="12.8" transform="rotate(0.03 348.20 264.35)">80</text>
<text x="379.30" y="264.35" text-anchor="middle" font-size="12.8" transform="rotate(0.03 379.30 264.35)">100</text>
<text transform="translate(20.6,161.2) rotate(-89.97)" textLength="63.6" lengthAdjust="spacingAndGlyphs" font-size="13">Polarization</text>
<path d="M211.7,276.5 C212.0,275.5 212.6,275.05 213.6,275.05 L217.0,274.95 M214.9,275.1 C214.5,276.6 214.0,278.0 213.9,279.5" stroke="#000" stroke-width="0.72" fill="none" stroke-linecap="round"/>
<text x="226.1" y="279.5" textLength="11.3" lengthAdjust="spacingAndGlyphs" font-size="12.4" transform="rotate(0.03 226.1 279.5)" >ps</text>
<path d="M225.3,270.6H223.5V283.3H225.3M237.7,270.6H239.5V283.3H237.7" stroke="#000" stroke-width="0.8" fill="none"/>
<text x="112.5" y="13.5" font-size="13" font-style="italic" textLength="9.0" lengthAdjust="spacingAndGlyphs" transform="rotate(0.03 113 13.5)">T</text>
<path d="M126.1,8.6h8.6M126.1,11.5h8.6" stroke="#111" stroke-width="0.62" fill="none"/>
<text x="139.1" y="13.5" textLength="24.8" lengthAdjust="spacingAndGlyphs" font-size="13" transform="rotate(0.03 139.1 13.5)" >0.5K</text>
<text x="295.1" y="13.5" font-size="13" font-style="italic" textLength="9.0" lengthAdjust="spacingAndGlyphs" transform="rotate(0.03 295.6 13.5)">T</text>
<path d="M308.70000000000005,8.6h8.6M308.70000000000005,11.5h8.6" stroke="#111" stroke-width="0.62" fill="none"/>
<text x="321.70000000000005" y="13.5" textLength="15.3" lengthAdjust="spacingAndGlyphs" font-size="13" transform="rotate(0.03 321.70000000000005 13.5)" >2K</text>
<text x="112.5" y="138.0" font-size="13" font-style="italic" textLength="9.0" lengthAdjust="spacingAndGlyphs" transform="rotate(0.03 113 138.0)">T</text>
<path d="M126.1,133.1h8.6M126.1,136.0h8.6" stroke="#111" stroke-width="0.62" fill="none"/>
<text x="139.1" y="138.0" textLength="24.8" lengthAdjust="spacingAndGlyphs" font-size="13" transform="rotate(0.03 139.1 138.0)" >2.5K</text>
<text x="295.1" y="138.0" font-size="13" font-style="italic" textLength="9.0" lengthAdjust="spacingAndGlyphs" transform="rotate(0.03 295.6 138.0)">T</text>
<path d="M308.70000000000005,133.1h8.6M308.70000000000005,136.0h8.6" stroke="#111" stroke-width="0.62" fill="none"/>
<text x="321.70000000000005" y="138.0" textLength="15.3" lengthAdjust="spacingAndGlyphs" font-size="13" transform="rotate(0.03 321.70000000000005 138.0)" >3K</text>
</svg></body></html>
